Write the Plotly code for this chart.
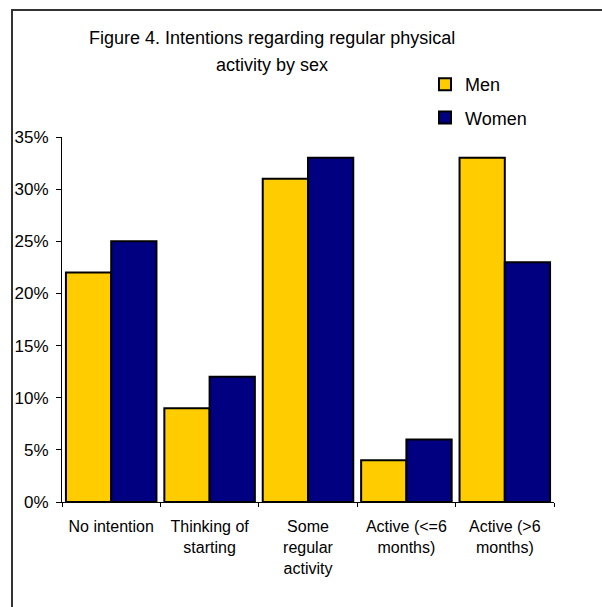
import plotly.graph_objects as go

# Intentions regarding regular physical activity, share of respondents by sex
categories = [
    "No intention",
    "Thinking of<br>starting",
    "Some<br>regular<br>activity",
    "Active (<=6<br>months)",
    "Active (>6<br>months)",
]
men = [0.22, 0.09, 0.31, 0.04, 0.33]
women = [0.25, 0.12, 0.33, 0.06, 0.23]
y_ticks = [0, 0.05, 0.10, 0.15, 0.20, 0.25, 0.30, 0.35]

FONT = "Liberation Sans, Arial, sans-serif"

fig = go.Figure()
fig.add_trace(go.Bar(
    x=categories, y=men, name="Men", legendgroup="men",
    marker=dict(color="#FFCC00", line=dict(color="#000000", width=2)),
))
fig.add_trace(go.Bar(
    x=categories, y=women, name="Women", legendgroup="women",
    marker=dict(color="#000080", line=dict(color="#000000", width=2)),
))

L, R, T, B = 62, 48, 137, 105
W, H = 602, 607
pw, ph = W - L - R, H - T - B


def px_x(px):
    return (px - L) / pw


def px_y(py):
    return (H - B - py) / ph


fig.update_layout(
    width=W, height=H,
    margin=dict(l=L, r=R, t=T, b=B, pad=0),
    paper_bgcolor="white", plot_bgcolor="white",
    barmode="group", bargap=0.08, bargroupgap=0,
    font=dict(family=FONT, size=16, color="#000000"),
    showlegend=True,
    legend=dict(
        x=px_x(425), y=px_y(66), xanchor="left", yanchor="top",
        font=dict(size=18, family=FONT, color="#000000"),
        traceorder="grouped", tracegroupgap=7,
        bgcolor="rgba(0,0,0,0)", borderwidth=0,
    ),
    xaxis=dict(
        showline=True, linecolor="#000000", linewidth=1,
        ticks="outside", tickson="boundaries", ticklen=4, tickcolor="#000000",
        ticklabelstandoff=10,
        tickfont=dict(size=16, family=FONT),
        showgrid=False, zeroline=False,
    ),
    yaxis=dict(
        range=[0, 0.35], tickvals=y_ticks, tickformat=".0%",
        showline=True, linecolor="#000000", linewidth=1,
        ticks="outside", ticklen=5, tickcolor="#000000",
        ticklabelstandoff=4,
        tickfont=dict(size=17, family=FONT),
        showgrid=False, zeroline=False,
    ),
    annotations=[
        dict(text="Figure 4. Intentions regarding regular physical",
             xref="paper", yref="paper", x=px_x(272), y=px_y(38),
             xanchor="center", yanchor="middle", showarrow=False,
             font=dict(size=18, family=FONT)),
        dict(text="activity by sex",
             xref="paper", yref="paper", x=px_x(272), y=px_y(65),
             xanchor="center", yanchor="middle", showarrow=False,
             font=dict(size=18, family=FONT)),
    ],
    shapes=[
        dict(type="rect", xref="paper", yref="paper",
             x0=px_x(12), x1=px_x(640), y0=px_y(650), y1=px_y(10),
             line=dict(color="#333333", width=2), fillcolor="rgba(0,0,0,0)",
             layer="below"),
    ],
)

fig.write_html("out.html")
